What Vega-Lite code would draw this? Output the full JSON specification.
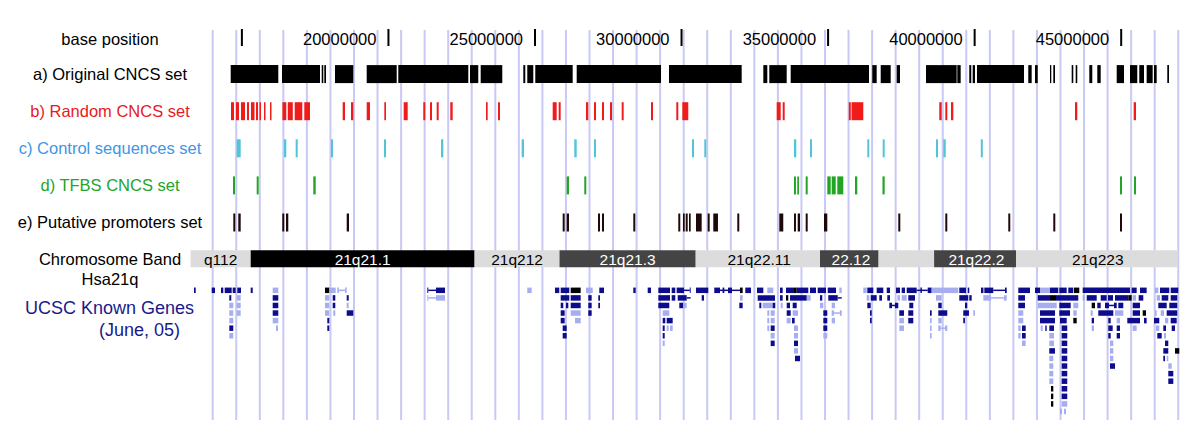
{
"$schema": "https://vega.github.io/schema/vega-lite/v6.json",
"width": 1200, "height": 437,
"autosize": {"type": "fit", "contains": "padding"},
"padding": 0,
"background": "#ffffff",
"config": {"view": {"stroke": null}, "font": "Liberation Sans", "text": {"font": "Liberation Sans"}},
"resolve": {"scale": {"y": "independent", "color": "independent"}},
"datasets": {
"guides": [{"pos":14.004},{"pos":14.807},{"pos":15.611},{"pos":16.414},{"pos":17.218},{"pos":18.021},{"pos":18.825},{"pos":19.628},{"pos":20.432},{"pos":21.235},{"pos":22.039},{"pos":22.842},{"pos":23.646},{"pos":24.449},{"pos":25.253},{"pos":26.056},{"pos":26.860},{"pos":27.663},{"pos":28.467},{"pos":29.270},{"pos":30.074},{"pos":30.877},{"pos":31.681},{"pos":32.484},{"pos":33.288},{"pos":34.091},{"pos":34.895},{"pos":35.698},{"pos":36.501},{"pos":37.305},{"pos":38.108},{"pos":38.912},{"pos":39.715},{"pos":40.519},{"pos":41.322},{"pos":42.126},{"pos":42.929},{"pos":43.733},{"pos":44.536},{"pos":45.340},{"pos":46.143},{"pos":46.947}],
"ticks": [{"pos":15,"label":""},{"pos":20,"label":"20000000"},{"pos":25,"label":"25000000"},{"pos":30,"label":"30000000"},{"pos":35,"label":"35000000"},{"pos":40,"label":"40000000"},{"pos":45,"label":"45000000"}],
"cncs": [
{"set":"original","start":14.618,"end":16.242},{"set":"original","start":16.368,"end":17.665},{"set":"original","start":17.723,"end":17.777},{"set":"original","start":17.812,"end":17.870},{"set":"original","start":18.177,"end":18.801},{"set":"original","start":19.258,"end":20.282},{"set":"original","start":20.336,"end":22.725},{"set":"original","start":22.782,"end":23.065},{"set":"original","start":23.147,"end":23.884},{"set":"original","start":24.601,"end":24.669},{"set":"original","start":24.737,"end":24.942},{"set":"original","start":25.010,"end":26.286},{"set":"original","start":26.423,"end":29.299},{"set":"original","start":29.572,"end":32.052},{"set":"original","start":32.790,"end":32.926},{"set":"original","start":32.994,"end":33.588},{"set":"original","start":33.724,"end":36.396},{"set":"original","start":36.508,"end":36.658},{"set":"original","start":36.795,"end":37.136},{"set":"original","start":37.340,"end":37.453},{"set":"original","start":38.340,"end":39.387},{"set":"original","start":39.408,"end":39.524},{"set":"original","start":39.817,"end":39.885},{"set":"original","start":39.933,"end":40.012},{"set":"original","start":40.080,"end":41.684},{"set":"original","start":41.830,"end":41.946},{"set":"original","start":42.060,"end":42.152},{"set":"original","start":42.571,"end":42.615},{"set":"original","start":42.684,"end":42.742},{"set":"original","start":43.311,"end":43.366},{"set":"original","start":43.448,"end":43.502},{"set":"original","start":43.912,"end":44.014},{"set":"original","start":44.185,"end":44.301},{"set":"original","start":44.847,"end":45.096},{"set":"original","start":45.300,"end":45.549},{"set":"original","start":45.617,"end":45.778},{"set":"original","start":45.869,"end":46.074},{"set":"original","start":46.119,"end":46.211},{"set":"original","start":46.573,"end":46.631},
{"set":"random","start":14.628,"end":14.730},{"set":"random","start":14.799,"end":14.901},{"set":"random","start":14.969,"end":15.106},{"set":"random","start":15.174,"end":15.242},{"set":"random","start":15.311,"end":15.430},{"set":"random","start":15.481,"end":15.549},{"set":"random","start":15.600,"end":15.652},{"set":"random","start":15.754,"end":15.805},{"set":"random","start":15.959,"end":16.010},{"set":"random","start":16.382,"end":16.515},{"set":"random","start":16.566,"end":16.737},{"set":"random","start":16.802,"end":17.061},{"set":"random","start":17.129,"end":17.324},{"set":"random","start":18.439,"end":18.518},{"set":"random","start":18.722,"end":18.801},{"set":"random","start":19.258,"end":19.371},{"set":"random","start":19.859,"end":19.917},{"set":"random","start":20.520,"end":20.657},{"set":"random","start":21.189,"end":21.257},{"set":"random","start":21.418,"end":21.486},{"set":"random","start":21.646,"end":21.714},{"set":"random","start":22.110,"end":22.192},{"set":"random","start":23.328,"end":23.386},{"set":"random","start":23.738,"end":23.806},{"set":"random","start":25.604,"end":25.740},{"set":"random","start":25.808,"end":25.876},{"set":"random","start":26.740,"end":26.818},{"set":"random","start":27.013,"end":27.081},{"set":"random","start":27.286,"end":27.354},{"set":"random","start":27.559,"end":27.627},{"set":"random","start":27.958,"end":28.026},{"set":"random","start":28.958,"end":29.026},{"set":"random","start":29.821,"end":29.889},{"set":"random","start":30.026,"end":30.230},{"set":"random","start":33.246,"end":33.383},{"set":"random","start":33.451,"end":33.519},{"set":"random","start":35.706,"end":35.775},{"set":"random","start":35.800,"end":36.201},{"set":"random","start":38.794,"end":38.876},{"set":"random","start":38.999,"end":39.067},{"set":"random","start":39.193,"end":39.272},{"set":"random","start":43.424,"end":43.502},{"set":"random","start":45.426,"end":45.505},
{"set":"control","start":14.823,"end":14.959},{"set":"control","start":16.436,"end":16.515},{"set":"control","start":16.835,"end":16.904},{"set":"control","start":18.040,"end":18.108},{"set":"control","start":19.848,"end":19.917},{"set":"control","start":21.793,"end":21.872},{"set":"control","start":24.546,"end":24.625},{"set":"control","start":26.341,"end":26.423},{"set":"control","start":27.013,"end":27.081},{"set":"control","start":30.356,"end":30.425},{"set":"control","start":30.776,"end":30.844},{"set":"control","start":33.837,"end":33.915},{"set":"control","start":34.383,"end":34.451},{"set":"control","start":36.338,"end":36.406},{"set":"control","start":36.863,"end":36.931},{"set":"control","start":38.682,"end":38.750},{"set":"control","start":38.931,"end":39.013},{"set":"control","start":40.210,"end":40.279},
{"set":"tfbs","start":14.697,"end":14.765},{"set":"tfbs","start":15.505,"end":15.573},{"set":"tfbs","start":17.436,"end":17.518},{"set":"tfbs","start":26.081,"end":26.160},{"set":"tfbs","start":26.682,"end":26.750},{"set":"tfbs","start":33.837,"end":33.904},{"set":"tfbs","start":33.949,"end":34.007},{"set":"tfbs","start":34.236,"end":34.304},{"set":"tfbs","start":34.973,"end":35.089},{"set":"tfbs","start":35.123,"end":35.260},{"set":"tfbs","start":35.314,"end":35.519},{"set":"tfbs","start":35.918,"end":35.996},{"set":"tfbs","start":36.856,"end":36.931},{"set":"tfbs","start":44.959,"end":45.027},{"set":"tfbs","start":45.437,"end":45.505},
{"set":"promoter","start":14.707,"end":14.775},{"set":"promoter","start":14.877,"end":14.959},{"set":"promoter","start":16.378,"end":16.447},{"set":"promoter","start":16.505,"end":16.583},{"set":"promoter","start":18.576,"end":18.654},{"set":"promoter","start":25.945,"end":26.013},{"set":"promoter","start":26.081,"end":26.160},{"set":"promoter","start":27.150,"end":27.218},{"set":"promoter","start":27.286,"end":27.354},{"set":"promoter","start":28.354,"end":28.422},{"set":"promoter","start":29.889,"end":29.957},{"set":"promoter","start":30.050,"end":30.108},{"set":"promoter","start":30.142,"end":30.210},{"set":"promoter","start":30.254,"end":30.312},{"set":"promoter","start":30.493,"end":30.687},{"set":"promoter","start":30.892,"end":30.960},{"set":"promoter","start":31.083,"end":31.243},{"set":"promoter","start":31.902,"end":31.970},{"set":"promoter","start":33.335,"end":33.471},{"set":"promoter","start":33.837,"end":33.904},{"set":"promoter","start":33.963,"end":34.041},{"set":"promoter","start":34.236,"end":34.304},{"set":"promoter","start":34.860,"end":34.973},{"set":"promoter","start":37.395,"end":37.464},{"set":"promoter","start":38.999,"end":39.067},{"set":"promoter","start":41.148,"end":41.216},{"set":"promoter","start":42.684,"end":42.752},{"set":"promoter","start":44.959,"end":45.027}
],
"bands": [
{"band":"21q11.2","start":13.250,"end":15.300,"stain":"gneg","label":"q112","mid":14.275},
{"band":"21q21.1","start":15.300,"end":22.939,"stain":"gpos100","label":"21q21.1","mid":19.120},
{"band":"21q21.2","start":22.939,"end":25.836,"stain":"gneg","label":"21q212","mid":24.388},
{"band":"21q21.3","start":25.836,"end":30.483,"stain":"gpos75","label":"21q21.3","mid":28.160},
{"band":"21q22.11","start":30.483,"end":34.724,"stain":"gneg","label":"21q22.11","mid":32.650},
{"band":"21q22.12","start":34.724,"end":36.723,"stain":"gpos75","label":"22.12","mid":35.780},
{"band":"21q22.13","start":36.723,"end":38.617,"stain":"gneg","label":"","mid":37.670},
{"band":"21q22.2","start":38.617,"end":41.411,"stain":"gpos75","label":"21q22.2","mid":40.060},
{"band":"21q22.3","start":41.411,"end":46.935,"stain":"gneg","label":"21q223","mid":44.200}
],
"labels": [{"label":"a) Original CNCS set"},{"label":"b) Random CNCS set"},{"label":"c) Control sequences set"},{"label":"d) TFBS CNCS set"},{"label":"e) Putative promoters set"},{"label":"Chromosome Band"}],
"genes": [
{"r":0,"s":13.366,"e":13.424,"c":"d"},{"r":0,"s":13.970,"e":14.082,"c":"d"},{"r":0,"s":14.287,"e":14.365,"c":"d"},{"r":0,"s":14.413,"e":14.652,"c":"d"},{"r":0,"s":14.686,"e":14.788,"c":"d"},{"r":0,"s":14.843,"e":14.969,"c":"d"},{"r":0,"s":15.300,"e":15.369,"c":"d"},{"r":0,"s":16.051,"e":16.242,"c":"l"},{"r":0,"s":17.835,"e":17.982,"c":"k"},{"r":0,"s":18.006,"e":18.200,"c":"l"},{"r":0,"s":18.255,"e":18.310,"c":"l"},{"r":0,"s":18.520,"e":18.576,"c":"l"},{"r":0,"s":21.326,"e":21.360,"c":"d"},{"r":0,"s":21.622,"e":21.930,"c":"d"},{"r":0,"s":24.737,"e":24.887,"c":"l"},{"r":0,"s":25.683,"e":25.829,"c":"d"},{"r":0,"s":25.877,"e":26.171,"c":"d"},{"r":0,"s":26.218,"e":26.559,"c":"k"},{"r":0,"s":26.740,"e":26.969,"c":"l"},{"r":0,"s":27.194,"e":27.354,"c":"d"},{"r":0,"s":28.354,"e":28.436,"c":"d"},{"r":0,"s":28.845,"e":28.958,"c":"d"},{"r":0,"s":29.207,"e":29.606,"c":"d"},{"r":0,"s":29.664,"e":29.787,"c":"d"},{"r":0,"s":29.834,"e":30.083,"c":"d"},{"r":0,"s":30.280,"e":30.312,"c":"d"},{"r":0,"s":30.493,"e":30.913,"c":"d"},{"r":0,"s":31.117,"e":31.312,"c":"d"},{"r":0,"s":31.400,"e":31.460,"c":"d"},{"r":0,"s":31.585,"e":31.721,"c":"d"},{"r":0,"s":31.994,"e":32.086,"c":"k"},{"r":0,"s":32.175,"e":32.370,"c":"d"},{"r":0,"s":32.574,"e":32.790,"c":"d"},{"r":0,"s":32.926,"e":33.131,"c":"l"},{"r":0,"s":33.359,"e":33.451,"c":"d"},{"r":0,"s":33.564,"e":33.837,"c":"d"},{"r":0,"s":33.837,"e":33.929,"c":"k"},{"r":0,"s":33.929,"e":34.325,"c":"d"},{"r":0,"s":34.383,"e":34.588,"c":"d"},{"r":0,"s":34.645,"e":34.929,"c":"d"},{"r":0,"s":34.987,"e":35.270,"c":"d"},{"r":0,"s":35.383,"e":35.465,"c":"l"},{"r":0,"s":36.201,"e":36.317,"c":"l"},{"r":0,"s":36.338,"e":36.543,"c":"d"},{"r":0,"s":36.658,"e":36.884,"c":"d"},{"r":0,"s":37.000,"e":37.112,"c":"d"},{"r":0,"s":37.316,"e":37.453,"c":"d"},{"r":0,"s":37.511,"e":37.624,"c":"d"},{"r":0,"s":37.682,"e":38.023,"c":"d"},{"r":0,"s":38.150,"e":38.200,"c":"d"},{"r":0,"s":38.398,"e":38.534,"c":"d"},{"r":0,"s":38.534,"e":39.442,"c":"l"},{"r":0,"s":39.476,"e":39.705,"c":"d"},{"r":0,"s":39.763,"e":39.817,"c":"d"},{"r":0,"s":40.217,"e":40.300,"c":"d"},{"r":0,"s":40.330,"e":40.637,"c":"d"},{"r":0,"s":41.035,"e":41.094,"c":"d"},{"r":0,"s":41.489,"e":41.889,"c":"d"},{"r":0,"s":42.060,"e":42.230,"c":"d"},{"r":0,"s":42.230,"e":42.571,"c":"l"},{"r":0,"s":42.571,"e":42.854,"c":"d"},{"r":0,"s":42.888,"e":43.141,"c":"d"},{"r":0,"s":43.195,"e":43.366,"c":"d"},{"r":0,"s":43.390,"e":43.570,"c":"k"},{"r":0,"s":43.686,"e":45.300,"c":"d"},{"r":0,"s":45.358,"e":45.528,"c":"d"},{"r":0,"s":45.642,"e":45.869,"c":"d"},{"r":0,"s":46.153,"e":46.266,"c":"l"},{"r":0,"s":46.324,"e":46.641,"c":"d"},{"r":0,"s":46.689,"e":46.948,"c":"d"},
{"r":1,"s":14.570,"e":14.638,"c":"d"},{"r":1,"s":14.823,"e":14.959,"c":"l"},{"r":1,"s":16.051,"e":16.242,"c":"d"},{"r":1,"s":17.835,"e":17.982,"c":"l"},{"r":1,"s":18.098,"e":18.187,"c":"d"},{"r":1,"s":18.576,"e":18.644,"c":"d"},{"r":1,"s":21.326,"e":21.360,"c":"l"},{"r":1,"s":21.622,"e":21.930,"c":"l"},{"r":1,"s":25.877,"e":26.171,"c":"d"},{"r":1,"s":26.218,"e":26.559,"c":"d"},{"r":1,"s":26.818,"e":26.934,"c":"d"},{"r":1,"s":27.160,"e":27.218,"c":"d"},{"r":1,"s":29.207,"e":29.606,"c":"d"},{"r":1,"s":29.664,"e":29.787,"c":"d"},{"r":1,"s":29.869,"e":30.176,"c":"d"},{"r":1,"s":30.687,"e":30.766,"c":"d"},{"r":1,"s":31.994,"e":32.086,"c":"l"},{"r":1,"s":32.598,"e":33.188,"c":"d"},{"r":1,"s":33.359,"e":33.451,"c":"d"},{"r":1,"s":33.564,"e":33.642,"c":"k"},{"r":1,"s":33.700,"e":34.270,"c":"d"},{"r":1,"s":34.280,"e":34.406,"c":"l"},{"r":1,"s":34.724,"e":34.802,"c":"d"},{"r":1,"s":35.007,"e":35.328,"c":"d"},{"r":1,"s":36.317,"e":36.406,"c":"l"},{"r":1,"s":36.454,"e":36.658,"c":"d"},{"r":1,"s":36.747,"e":36.839,"c":"d"},{"r":1,"s":37.020,"e":37.112,"c":"d"},{"r":1,"s":37.364,"e":37.453,"c":"l"},{"r":1,"s":37.511,"e":37.682,"c":"l"},{"r":1,"s":37.736,"e":37.965,"c":"d"},{"r":1,"s":38.682,"e":38.876,"c":"l"},{"r":1,"s":39.476,"e":39.783,"c":"d"},{"r":1,"s":39.817,"e":39.899,"c":"d"},{"r":1,"s":40.296,"e":40.560,"c":"l"},{"r":1,"s":41.000,"e":41.094,"c":"l"},{"r":1,"s":41.489,"e":41.718,"c":"d"},{"r":1,"s":42.152,"e":42.571,"c":"d"},{"r":1,"s":42.571,"e":42.776,"c":"k"},{"r":1,"s":42.776,"e":43.536,"c":"d"},{"r":1,"s":43.686,"e":43.765,"c":"l"},{"r":1,"s":43.823,"e":44.165,"c":"d"},{"r":1,"s":44.301,"e":44.506,"c":"d"},{"r":1,"s":44.550,"e":44.721,"c":"d"},{"r":1,"s":44.789,"e":45.243,"c":"d"},{"r":1,"s":45.243,"e":45.358,"c":"k"},{"r":1,"s":45.392,"e":45.505,"c":"l"},{"r":1,"s":45.597,"e":45.754,"c":"d"},{"r":1,"s":46.211,"e":46.324,"c":"l"},{"r":1,"s":46.382,"e":46.607,"c":"d"},{"r":1,"s":46.689,"e":46.914,"c":"d"},
{"r":2,"s":14.570,"e":14.706,"c":"l"},{"r":2,"s":14.823,"e":14.959,"c":"l"},{"r":2,"s":16.051,"e":16.242,"c":"d"},{"r":2,"s":17.835,"e":17.982,"c":"l"},{"r":2,"s":18.098,"e":18.187,"c":"d"},{"r":2,"s":18.576,"e":18.644,"c":"l"},{"r":2,"s":25.877,"e":25.966,"c":"d"},{"r":2,"s":26.058,"e":26.137,"c":"d"},{"r":2,"s":26.218,"e":26.559,"c":"d"},{"r":2,"s":26.818,"e":26.934,"c":"d"},{"r":2,"s":27.160,"e":27.218,"c":"d"},{"r":2,"s":29.207,"e":29.582,"c":"d"},{"r":2,"s":29.923,"e":30.060,"c":"d"},{"r":2,"s":30.060,"e":30.176,"c":"l"},{"r":2,"s":31.970,"e":32.086,"c":"d"},{"r":2,"s":32.653,"e":32.721,"c":"d"},{"r":2,"s":32.768,"e":33.109,"c":"l"},{"r":2,"s":33.109,"e":33.198,"c":"d"},{"r":2,"s":33.383,"e":33.451,"c":"l"},{"r":2,"s":33.588,"e":33.700,"c":"d"},{"r":2,"s":33.792,"e":33.929,"c":"d"},{"r":2,"s":34.724,"e":34.837,"c":"l"},{"r":2,"s":35.123,"e":35.236,"c":"l"},{"r":2,"s":36.338,"e":36.454,"c":"d"},{"r":2,"s":37.088,"e":37.180,"c":"d"},{"r":2,"s":37.283,"e":37.395,"c":"d"},{"r":2,"s":37.770,"e":37.907,"c":"d"},{"r":2,"s":38.760,"e":38.876,"c":"d"},{"r":2,"s":39.671,"e":39.749,"c":"d"},{"r":2,"s":41.489,"e":41.718,"c":"d"},{"r":2,"s":42.152,"e":42.801,"c":"l"},{"r":2,"s":42.888,"e":43.277,"c":"d"},{"r":2,"s":43.366,"e":43.536,"c":"l"},{"r":2,"s":43.993,"e":44.106,"c":"k"},{"r":2,"s":44.185,"e":44.301,"c":"d"},{"r":2,"s":44.447,"e":44.583,"c":"d"},{"r":2,"s":44.755,"e":44.847,"c":"d"},{"r":2,"s":44.902,"e":45.072,"c":"d"},{"r":2,"s":45.392,"e":45.642,"c":"d"},{"r":2,"s":46.266,"e":46.553,"c":"d"},{"r":2,"s":46.641,"e":46.914,"c":"d"},
{"r":3,"s":14.570,"e":14.706,"c":"l"},{"r":3,"s":14.823,"e":14.959,"c":"l"},{"r":3,"s":16.051,"e":16.242,"c":"d"},{"r":3,"s":17.835,"e":17.982,"c":"l"},{"r":3,"s":18.119,"e":18.187,"c":"l"},{"r":3,"s":18.576,"e":18.801,"c":"d"},{"r":3,"s":25.877,"e":26.013,"c":"d"},{"r":3,"s":26.218,"e":26.559,"c":"l"},{"r":3,"s":26.818,"e":26.934,"c":"d"},{"r":3,"s":29.357,"e":29.582,"c":"l"},{"r":3,"s":32.926,"e":32.994,"c":"l"},{"r":3,"s":33.041,"e":33.178,"c":"l"},{"r":3,"s":33.588,"e":33.724,"c":"d"},{"r":3,"s":33.792,"e":33.973,"c":"l"},{"r":3,"s":34.837,"e":34.973,"c":"d"},{"r":3,"s":35.123,"e":35.200,"c":"l"},{"r":3,"s":35.400,"e":35.465,"c":"l"},{"r":3,"s":36.430,"e":36.488,"c":"d"},{"r":3,"s":37.429,"e":37.589,"c":"d"},{"r":3,"s":37.736,"e":37.907,"c":"d"},{"r":3,"s":38.477,"e":38.534,"c":"d"},{"r":3,"s":38.760,"e":39.067,"c":"d"},{"r":3,"s":39.612,"e":39.806,"c":"d"},{"r":3,"s":39.954,"e":40.012,"c":"l"},{"r":3,"s":41.489,"e":41.660,"c":"l"},{"r":3,"s":42.230,"e":42.742,"c":"d"},{"r":3,"s":42.888,"e":43.253,"c":"d"},{"r":3,"s":43.366,"e":43.482,"c":"l"},{"r":3,"s":43.959,"e":44.028,"c":"l"},{"r":3,"s":44.219,"e":44.731,"c":"d"},{"r":3,"s":44.789,"e":45.072,"c":"l"},{"r":3,"s":45.392,"e":45.642,"c":"d"},{"r":3,"s":45.734,"e":45.846,"c":"k"},{"r":3,"s":46.153,"e":46.211,"c":"l"},{"r":3,"s":46.348,"e":46.461,"c":"l"},{"r":3,"s":46.552,"e":46.914,"c":"d"},
{"r":4,"s":14.570,"e":14.706,"c":"l"},{"r":4,"s":16.051,"e":16.242,"c":"l"},{"r":4,"s":17.914,"e":17.982,"c":"d"},{"r":4,"s":25.877,"e":26.013,"c":"d"},{"r":4,"s":26.365,"e":26.559,"c":"l"},{"r":4,"s":29.357,"e":29.446,"c":"d"},{"r":4,"s":29.493,"e":29.698,"c":"d"},{"r":4,"s":32.926,"e":32.994,"c":"l"},{"r":4,"s":33.041,"e":33.178,"c":"l"},{"r":4,"s":33.588,"e":33.724,"c":"l"},{"r":4,"s":33.768,"e":33.860,"c":"d"},{"r":4,"s":34.837,"e":34.973,"c":"d"},{"r":4,"s":35.123,"e":35.236,"c":"l"},{"r":4,"s":36.430,"e":36.488,"c":"d"},{"r":4,"s":37.429,"e":37.589,"c":"l"},{"r":4,"s":37.736,"e":37.907,"c":"d"},{"r":4,"s":38.477,"e":38.534,"c":"l"},{"r":4,"s":38.760,"e":38.876,"c":"l"},{"r":4,"s":39.612,"e":39.670,"c":"d"},{"r":4,"s":41.489,"e":41.660,"c":"l"},{"r":4,"s":42.230,"e":42.742,"c":"d"},{"r":4,"s":42.912,"e":43.141,"c":"d"},{"r":4,"s":43.366,"e":43.482,"c":"k"},{"r":4,"s":43.993,"e":44.072,"c":"d"},{"r":4,"s":44.560,"e":44.642,"c":"d"},{"r":4,"s":44.847,"e":44.959,"c":"l"},{"r":4,"s":45.209,"e":45.642,"c":"d"},{"r":4,"s":45.778,"e":45.869,"c":"d"},{"r":4,"s":46.119,"e":46.300,"c":"d"},{"r":4,"s":46.495,"e":46.607,"c":"l"},{"r":4,"s":46.689,"e":46.894,"c":"d"},
{"r":5,"s":14.570,"e":14.706,"c":"d"},{"r":5,"s":16.164,"e":16.232,"c":"l"},{"r":5,"s":17.914,"e":17.982,"c":"d"},{"r":5,"s":25.945,"e":26.081,"c":"d"},{"r":5,"s":29.357,"e":29.425,"c":"d"},{"r":5,"s":29.493,"e":29.561,"c":"l"},{"r":5,"s":29.606,"e":29.698,"c":"l"},{"r":5,"s":32.926,"e":32.994,"c":"l"},{"r":5,"s":33.041,"e":33.178,"c":"d"},{"r":5,"s":33.837,"e":33.973,"c":"l"},{"r":5,"s":34.837,"e":34.973,"c":"d"},{"r":5,"s":37.429,"e":37.589,"c":"l"},{"r":5,"s":38.477,"e":38.534,"c":"l"},{"r":5,"s":38.760,"e":38.840,"c":"l"},{"r":5,"s":38.990,"e":39.067,"c":"l"},{"r":5,"s":41.489,"e":41.571,"c":"l"},{"r":5,"s":41.616,"e":41.742,"c":"d"},{"r":5,"s":42.254,"e":42.322,"c":"l"},{"r":5,"s":42.411,"e":42.459,"c":"d"},{"r":5,"s":42.547,"e":42.707,"c":"d"},{"r":5,"s":42.969,"e":43.160,"c":"d"},{"r":5,"s":43.993,"e":44.072,"c":"l"},{"r":5,"s":44.560,"e":44.710,"c":"d"},{"r":5,"s":44.847,"e":44.959,"c":"d"},{"r":5,"s":45.392,"e":45.528,"c":"l"},{"r":5,"s":46.188,"e":46.300,"c":"l"},{"r":5,"s":46.437,"e":46.529,"c":"d"},{"r":5,"s":46.723,"e":46.836,"c":"d"},
{"r":6,"s":14.570,"e":14.706,"c":"l"},{"r":6,"s":25.945,"e":26.081,"c":"d"},{"r":6,"s":29.357,"e":29.425,"c":"d"},{"r":6,"s":33.041,"e":33.178,"c":"l"},{"r":6,"s":33.837,"e":33.973,"c":"l"},{"r":6,"s":34.837,"e":34.973,"c":"l"},{"r":6,"s":38.477,"e":38.534,"c":"l"},{"r":6,"s":41.489,"e":41.571,"c":"l"},{"r":6,"s":41.616,"e":41.742,"c":"d"},{"r":6,"s":42.547,"e":42.707,"c":"l"},{"r":6,"s":42.969,"e":43.160,"c":"d"},{"r":6,"s":44.560,"e":44.642,"c":"d"},{"r":6,"s":44.847,"e":44.959,"c":"d"},{"r":6,"s":46.232,"e":46.382,"c":"d"},{"r":6,"s":46.461,"e":46.529,"c":"l"},
{"r":7,"s":29.357,"e":29.425,"c":"l"},{"r":7,"s":33.041,"e":33.178,"c":"d"},{"r":7,"s":33.837,"e":33.973,"c":"d"},{"r":7,"s":41.616,"e":41.742,"c":"l"},{"r":7,"s":42.547,"e":42.707,"c":"l"},{"r":7,"s":42.969,"e":43.160,"c":"d"},{"r":7,"s":44.618,"e":44.731,"c":"l"},{"r":7,"s":46.495,"e":46.607,"c":"d"},
{"r":8,"s":33.837,"e":33.973,"c":"l"},{"r":8,"s":42.547,"e":42.742,"c":"d"},{"r":8,"s":42.969,"e":43.160,"c":"d"},{"r":8,"s":44.618,"e":44.731,"c":"l"},{"r":8,"s":46.437,"e":46.607,"c":"d"},{"r":8,"s":46.836,"e":46.983,"c":"k"},
{"r":9,"s":33.871,"e":34.041,"c":"d"},{"r":9,"s":42.547,"e":42.684,"c":"l"},{"r":9,"s":42.969,"e":43.160,"c":"d"},{"r":9,"s":44.618,"e":44.731,"c":"l"},{"r":9,"s":46.437,"e":46.495,"c":"d"},{"r":9,"s":46.552,"e":46.607,"c":"l"},
{"r":10,"s":42.547,"e":42.684,"c":"l"},{"r":10,"s":42.969,"e":43.160,"c":"d"},{"r":10,"s":44.618,"e":44.789,"c":"d"},{"r":10,"s":46.607,"e":46.723,"c":"l"},
{"r":11,"s":42.547,"e":42.684,"c":"l"},{"r":11,"s":42.969,"e":43.160,"c":"d"},{"r":11,"s":46.607,"e":46.778,"c":"d"},
{"r":12,"s":42.547,"e":42.684,"c":"l"},{"r":12,"s":42.969,"e":43.160,"c":"d"},{"r":12,"s":46.607,"e":46.778,"c":"d"},
{"r":13,"s":42.605,"e":42.684,"c":"k"},{"r":13,"s":42.969,"e":43.160,"c":"d"},
{"r":14,"s":42.605,"e":42.684,"c":"k"},{"r":14,"s":42.969,"e":43.160,"c":"d"},
{"r":15,"s":42.605,"e":42.684,"c":"k"},{"r":15,"s":42.969,"e":43.160,"c":"l"},
{"r":16,"s":42.912,"e":42.980,"c":"l"},{"r":16,"s":43.048,"e":43.116,"c":"l"}
],
"introns": [
{"r":0,"s":18.310,"e":18.520,"c":"l"},{"r":0,"s":21.360,"e":21.622,"c":"d"},{"r":0,"s":30.083,"e":30.280,"c":"d"},{"r":0,"s":31.312,"e":31.994,"c":"d"},{"r":0,"s":38.023,"e":38.398,"c":"d"},{"r":0,"s":40.637,"e":41.035,"c":"d"},
{"r":1,"s":21.360,"e":21.622,"c":"l"},{"r":1,"s":30.176,"e":30.312,"c":"d"},{"r":1,"s":35.328,"e":35.465,"c":"d"},{"r":1,"s":40.560,"e":41.000,"c":"l"},
{"r":2,"s":37.180,"e":37.283,"c":"d"},{"r":2,"s":44.583,"e":44.755,"c":"d"},
{"r":3,"s":35.200,"e":35.400,"c":"l"},{"r":5,"s":38.840,"e":38.990,"c":"l"}
]
},
"layer": [
{"data": {"name": "guides"}, "mark": {"type": "rule", "color": "#c9c9f6", "strokeWidth": 2},
 "encoding": {
  "x": {"field": "pos", "type": "quantitative", "scale": {"domain": [6.747, 47.689], "nice": false, "zero": false}, "axis": null},
  "y": {"datum": -0.189, "type": "quantitative", "scale": {"domain": [-0.997, 10.782], "reverse": true, "nice": false, "zero": false}, "axis": null},
  "y2": {"datum": 10.323}}},
{"data": {"name": "ticks"}, "mark": {"type": "rule", "color": "#000000", "strokeWidth": 2},
 "encoding": {
  "x": {"field": "pos", "type": "quantitative", "scale": {"domain": [6.747, 47.689], "nice": false, "zero": false}, "axis": null},
  "y": {"datum": -0.216, "type": "quantitative", "scale": {"domain": [-0.997, 10.782], "reverse": true, "nice": false, "zero": false}, "axis": null},
  "y2": {"datum": 0.243}}},
{"data": {"name": "ticks"}, "transform": [{"filter": "datum.label != ''"}],
 "mark": {"type": "text", "align": "right", "baseline": "middle", "dx": -12, "fontSize": 16.5, "color": "#000000"},
 "encoding": {
  "x": {"field": "pos", "type": "quantitative", "scale": {"domain": [6.747, 47.689], "nice": false, "zero": false}, "axis": null},
  "y": {"datum": 0.08, "type": "quantitative", "scale": {"domain": [-0.997, 10.782], "reverse": true, "nice": false, "zero": false}, "axis": null},
  "text": {"field": "label"}}},
{"data": {"name": "cncs"}, "mark": {"type": "bar", "height": 18},
 "encoding": {
  "x": {"field": "start", "type": "quantitative", "scale": {"domain": [6.747, 47.689], "nice": false, "zero": false}, "axis": null},
  "x2": {"field": "end"},
  "y": {"field": "set", "type": "nominal", "scale": {"type": "point", "domain": ["original", "random", "control", "tfbs", "promoter"], "range": [74.1, 222.5], "padding": 0}, "axis": null},
  "color": {"field": "set", "type": "nominal", "scale": {"domain": ["original", "random", "control", "tfbs", "promoter"], "range": ["#000000", "#f01c1c", "#4fc6d8", "#22a522", "#1e0808"]}, "legend": null}}},
{"data": {"name": "bands"}, "mark": {"type": "bar", "height": 17},
 "encoding": {
  "x": {"field": "start", "type": "quantitative", "scale": {"domain": [6.747, 47.689], "nice": false, "zero": false}, "axis": null},
  "x2": {"field": "end"},
  "y": {"datum": 6, "type": "quantitative", "scale": {"domain": [-0.997, 10.782], "reverse": true, "nice": false, "zero": false}, "axis": null},
  "color": {"field": "stain", "type": "nominal", "scale": {"domain": ["gneg", "gpos100", "gpos75"], "range": ["#dcdcdc", "#000000", "#444444"]}, "legend": null}}},
{"data": {"name": "bands"}, "transform": [{"filter": "datum.label != ''"}],
 "mark": {"type": "text", "align": "center", "baseline": "middle", "fontSize": 15.5},
 "encoding": {
  "x": {"field": "mid", "type": "quantitative", "scale": {"domain": [6.747, 47.689], "nice": false, "zero": false}, "axis": null},
  "y": {"datum": 6, "type": "quantitative", "scale": {"domain": [-0.997, 10.782], "reverse": true, "nice": false, "zero": false}, "axis": null},
  "text": {"field": "label"},
  "color": {"condition": {"test": "datum.stain == 'gneg'", "value": "#000000"}, "value": "#ffffff"}}},
{"data": {"name": "labels"}, "mark": {"type": "text", "align": "center", "baseline": "middle", "fontSize": 16.5},
 "encoding": {
  "x": {"datum": 10.5, "type": "quantitative", "scale": {"domain": [6.747, 47.689], "nice": false, "zero": false}, "axis": null},
  "y": {"field": "label", "type": "nominal", "scale": {"type": "point", "domain": ["a) Original CNCS set", "b) Random CNCS set", "c) Control sequences set", "d) TFBS CNCS set", "e) Putative promoters set", "Chromosome Band"], "range": [74.6, 259.6], "padding": 0}, "axis": null},
  "text": {"field": "label"},
  "color": {"condition": [{"test": "datum.label == 'b) Random CNCS set'", "value": "#e8191e"}, {"test": "datum.label == 'c) Control sequences set'", "value": "#3d96e6"}, {"test": "datum.label == 'd) TFBS CNCS set'", "value": "#22a52a"}], "value": "#000000"}}},
{"data": {"values": [{"label": "base position"}]}, "mark": {"type": "text", "align": "center", "baseline": "middle", "fontSize": 16.5, "color": "#000000"},
 "encoding": {
  "x": {"datum": 10.5, "type": "quantitative", "scale": {"domain": [6.747, 47.689], "nice": false, "zero": false}, "axis": null},
  "y": {"datum": 0.08, "type": "quantitative", "scale": {"domain": [-0.997, 10.782], "reverse": true, "nice": false, "zero": false}, "axis": null},
  "text": {"field": "label"}}},
{"data": {"values": [{"label": "Hsa21q"}]}, "mark": {"type": "text", "align": "center", "baseline": "middle", "fontSize": 16.5, "color": "#000000"},
 "encoding": {
  "x": {"datum": 10.5, "type": "quantitative", "scale": {"domain": [6.747, 47.689], "nice": false, "zero": false}, "axis": null},
  "y": {"datum": 6.55, "type": "quantitative", "scale": {"domain": [-0.997, 10.782], "reverse": true, "nice": false, "zero": false}, "axis": null},
  "text": {"field": "label"}}},
{"data": {"values": [{"label": "UCSC Known Genes"}]}, "mark": {"type": "text", "align": "right", "baseline": "middle", "fontSize": 18, "color": "#1a1a8c"},
 "encoding": {
  "x": {"datum": 13.366, "type": "quantitative", "scale": {"domain": [6.747, 47.689], "nice": false, "zero": false}, "axis": null},
  "y": {"datum": 7.33, "type": "quantitative", "scale": {"domain": [-0.997, 10.782], "reverse": true, "nice": false, "zero": false}, "axis": null},
  "text": {"field": "label"}}},
{"data": {"values": [{"label": "(June, 05)"}]}, "mark": {"type": "text", "align": "right", "baseline": "middle", "fontSize": 18, "color": "#1a1a8c"},
 "encoding": {
  "x": {"datum": 12.888, "type": "quantitative", "scale": {"domain": [6.747, 47.689], "nice": false, "zero": false}, "axis": null},
  "y": {"datum": 7.92, "type": "quantitative", "scale": {"domain": [-0.997, 10.782], "reverse": true, "nice": false, "zero": false}, "axis": null},
  "text": {"field": "label"}}},
{"data": {"name": "introns"}, "mark": {"type": "bar", "height": 1.5},
 "encoding": {
  "x": {"field": "s", "type": "quantitative", "scale": {"domain": [6.747, 47.689], "nice": false, "zero": false}, "axis": null},
  "x2": {"field": "e"},
  "y": {"field": "r", "type": "quantitative", "scale": {"domain": [-37.68, 18.71], "reverse": true, "nice": false, "zero": false}, "axis": null},
  "color": {"field": "c", "type": "nominal", "scale": {"domain": ["d", "l", "k"], "range": ["#0c0c8c", "#a6aef0", "#000000"]}, "legend": null}}},
{"data": {"name": "genes"}, "mark": {"type": "bar", "height": 5.5},
 "encoding": {
  "x": {"field": "s", "type": "quantitative", "scale": {"domain": [6.747, 47.689], "nice": false, "zero": false}, "axis": null},
  "x2": {"field": "e"},
  "y": {"field": "r", "type": "quantitative", "scale": {"domain": [-37.68, 18.71], "reverse": true, "nice": false, "zero": false}, "axis": null},
  "color": {"field": "c", "type": "nominal", "scale": {"domain": ["d", "l", "k"], "range": ["#0c0c8c", "#a6aef0", "#000000"]}, "legend": null}}}
]
}
